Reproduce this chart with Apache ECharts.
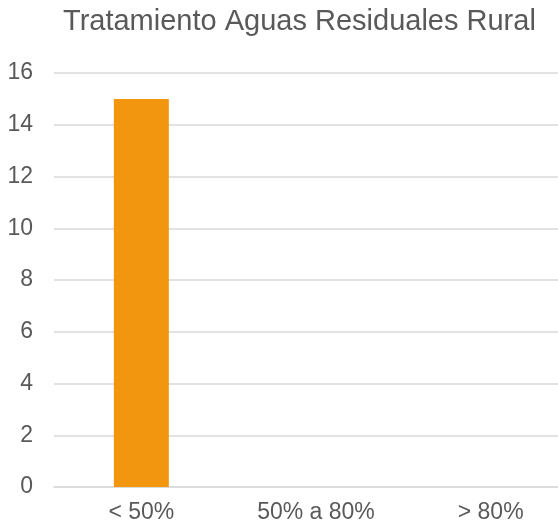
<!DOCTYPE html>
<html>
<head>
<meta charset="utf-8">
<script src="https://cdn.jsdelivr.net/npm/echarts@6/dist/echarts.min.js"></script>
<style>
  html, body { margin: 0; padding: 0; background: #fff; }
  #chart { width: 558px; height: 527px; }
</style>
</head>
<body>
<div id="chart"></div>
<script>
// Rural wastewater treatment coverage brackets and their counts
const categories = ['< 50%', '50% a 80%', '> 80%'];
const counts = [15, 0, 0];
const yTicks = { min: 0, max: 16, interval: 2 };

const FONT = '"Liberation Sans", Arial, sans-serif';
const TEXT = '#595959';
const GRID = '#d9d9d9';

const chart = echarts.init(document.getElementById('chart'), null, { renderer: 'canvas' });
chart.setOption({
  animation: false,
  backgroundColor: '#ffffff',
  title: {
    text: 'Tratamiento Aguas Residuales Rural',
    left: 58,
    top: 2,
    textStyle: { fontFamily: FONT, fontSize: 29, fontWeight: 'normal', color: TEXT }
  },
  // plot area runs past the right edge of the canvas
  grid: { left: 54, right: -20, top: 73, bottom: 40, containLabel: false, outerBoundsMode: 'none' },
  xAxis: {
    type: 'category',
    data: categories,
    axisLine: { show: true, lineStyle: { color: GRID, width: 1.5 } },
    axisTick: { show: false },
    axisLabel: { fontFamily: FONT, fontSize: 23, color: TEXT, margin: 14, interval: 0 }
  },
  yAxis: {
    type: 'value',
    min: yTicks.min,
    max: yTicks.max,
    interval: yTicks.interval,
    axisLine: { show: false },
    axisTick: { show: false },
    splitLine: { lineStyle: { color: GRID, width: 1.5 } },
    axisLabel: { fontFamily: FONT, fontSize: 23, color: TEXT, margin: 21 }
  },
  series: [{
    type: 'bar',
    data: counts,
    barWidth: 55,
    itemStyle: { color: '#F3960F' }
  }]
});
</script>
</body>
</html>
